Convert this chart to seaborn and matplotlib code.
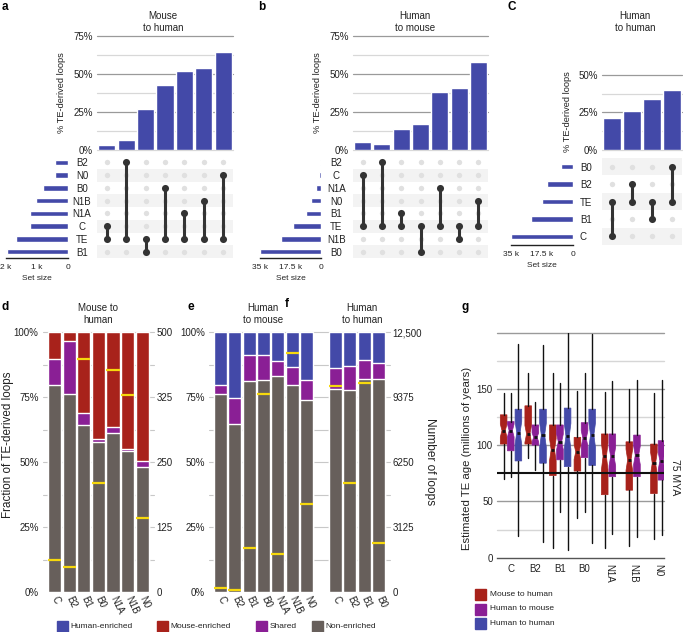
import numpy as np
import pandas as pd
import seaborn as sns
import matplotlib.pyplot as plt
from matplotlib.patches import Rectangle

sns.set_style("white")
plt.rcParams['font.family'] = ['Liberation Sans', 'DejaVu Sans']
plt.rcParams['font.size'] = 7
plt.rcParams['text.color'] = '#222222'
plt.rcParams['xtick.color'] = '#222222'
plt.rcParams['ytick.color'] = '#222222'

BLUE = '#4349a8'
RED = '#a8221b'
PURPLE = '#8a1f95'
GRAY = '#675f5b'
YELLOW = '#f6d80d'
DOT = '#333333'

# -------- data --------
# a: mouse to human
a_rows = ['B2', 'N0', 'B0', 'N1B', 'N1A', 'C', 'TE', 'B1']
a_size = [430, 430, 800, 1040, 1210, 1230, 1680, 1960]
a_sets = [('C', 'TE'), ('B2', 'TE'), ('TE', 'B1'), ('B0', 'TE'), ('N1A', 'TE'), ('N1B', 'TE'), ('N0', 'TE')]
a_pct = [3.3, 6.6, 26.8, 42.8, 52.0, 53.7, 64.3]

# b: human to mouse
b_rows = ['B2', 'C', 'N1A', 'N0', 'B1', 'TE', 'N1B', 'B0']
b_size = [600, 960, 2700, 5800, 8500, 15800, 22900, 35000]
b_sets = [('C', 'TE'), ('B2', 'TE'), ('B1', 'TE'), ('TE', 'B0'), ('N1A', 'TE'), ('TE', 'N1B'), ('N0', 'TE')]
b_pct = [5.0, 4.0, 13.8, 16.9, 38.4, 41.0, 58.0]

# c: human to human
c_rows = ['B0', 'B2', 'TE', 'B1', 'C']
c_size = [6900, 14900, 17300, 23600, 35000]
c_sets = [('TE', 'C'), ('B2', 'TE'), ('TE', 'B1'), ('B0', 'TE')]
c_pct = [21.5, 25.9, 33.8, 40.0]

# d/e/f: fraction of TE-derived loops (%)
d_cats = ['C', 'B2', 'B1', 'B0', 'N1A', 'N1B', 'N0']
d_nonenriched = [79.9, 76.4, 64.2, 57.8, 61.4, 54.2, 48.2]
d_shared = [10.0, 20.1, 4.9, 1.3, 2.2, 1.1, 2.2]
d_mouse = [10.1, 3.5, 30.9, 40.9, 36.4, 44.7, 49.6]
d_loops = [12.3, 9.7, 89.6, 42.2, 85.4, 75.8, 28.7]   # % of right axis

e_cats = ['C', 'B2', 'B1', 'B0', 'N1A', 'N1B', 'N0']
e_nonenriched = [76.4, 64.9, 81.2, 81.8, 83.1, 79.9, 73.8]
e_shared = [3.5, 10.0, 10.2, 9.6, 5.7, 6.8, 7.7]
e_human = [20.1, 25.1, 8.6, 8.6, 11.2, 13.3, 18.5]
e_loops = [1.8, 0.9, 16.9, 76.4, 14.6, 92.1, 33.9]

f_cats = ['C', 'B2', 'B1', 'B0']
f_nonenriched = [78.3, 77.7, 82.2, 81.9]
f_shared = [8.1, 9.2, 7.0, 6.3]
f_human = [13.6, 13.1, 10.8, 11.8]
f_loops = [79.2, 42.2, 80.5, 19.1]

# g: estimated TE age (min, q1, median, q3, max)
g_cats = ['C', 'B2', 'B1', 'B0', 'N1A', 'N1B', 'N0']
g_mouse_to_human = [(70, 101, 113, 127, 146), (89, 101, 110, 135, 164), (9, 73, 96, 118, 164),
                    (35, 77, 94, 107, 148), (9, 56, 90, 110, 147), (10, 60, 87, 103, 150),
                    (17, 57, 84, 101, 146)]
g_human_to_mouse = [(72, 95, 113, 121, 146), (78, 100, 107, 118, 138), (41, 87, 103, 118, 155),
                    (41, 89, 106, 120, 164), (21, 72, 90, 110, 157), (18, 72, 91, 109, 158),
                    (20, 69, 86, 104, 158)]
g_human_to_human = [(19, 86, 111, 132, 190), (14, 84, 109, 132, 189), (7, 81, 108, 133, 200),
                    (13, 82, 109, 132, 199)]

W, H = 683, 632
fig = plt.figure(figsize=(W / 100, H / 100), dpi=100)


def px(l, t, r, b):
    return [l / W, 1 - b / H, (r - l) / W, (b - t) / H]


def ftext(x, y, s, **kw):
    fig.text(x / W, 1 - y / H, s, **kw)


def clean(ax):
    for s in ax.spines.values():
        s.set_visible(False)
    ax.tick_params(length=0)


def upset(rows, size, sets, pct, bar_box, mat_box, size_box, ymax, size_max,
          size_ticks, size_labels, bar_h, label_pad, label_ha):
    n, m = len(rows), len(pct)
    ax = fig.add_axes(px(*bar_box))
    for v in np.arange(0, ymax + 1, 12.5):
        ax.axhline(v, color='#9a9a9a' if (v % 25 == 0 and v > 0) else '#d8d8d8',
                   lw=0.9, zorder=0, clip_on=False)
    sns.barplot(x=[str(i) for i in range(m)], y=pct, color=BLUE, saturation=1,
                width=0.88, errorbar=None, ax=ax, zorder=2)
    ax.set_xlim(-0.5, m - 0.5)
    ax.set_ylim(0, ymax)
    ax.set_xticks([])
    ax.set_xlabel('')
    ax.set_ylabel('')
    yt = np.arange(0, ymax + 1, 25)
    ax.set_yticks(yt)
    ax.set_yticklabels([f'{int(v)}%' for v in yt])
    clean(ax)
    ax.tick_params(axis='y', pad=3)

    axm = fig.add_axes(px(*mat_box))
    for i in range(n):
        if (n - 1 - i) % 2 == 0:
            axm.axhspan(i - 0.5, i + 0.5, color='#f3f3f3', lw=0, zorder=0)
    xx, yy = np.meshgrid(np.arange(m), np.arange(n))
    axm.scatter(xx.ravel(), yy.ravel(), s=15, color='#e0e0e0', lw=0, zorder=1)
    for j, (r1, r2) in enumerate(sets):
        ys = [rows.index(r1), rows.index(r2)]
        axm.plot([j, j], ys, color=DOT, lw=2.2, zorder=2)
        axm.scatter([j, j], ys, s=26, color=DOT, lw=0, zorder=3)
    axm.set_xlim(-0.5, m - 0.5)
    axm.set_ylim(n - 0.5, -0.5)
    axm.set_xticks([])
    axm.set_yticks(range(n))
    axm.set_yticklabels(rows)
    clean(axm)
    axm.tick_params(axis='y', pad=label_pad)
    for t in axm.get_yticklabels():
        t.set_ha(label_ha)

    axs = fig.add_axes(px(*size_box))
    sns.barplot(x=size, y=rows, order=rows, orient='h', color=BLUE, saturation=1,
                width=bar_h, errorbar=None, ax=axs)
    axs.set_xlim(size_max, 0)
    axs.set_ylim(n - 0.5, -0.5)
    axs.set_yticks([])
    axs.set_ylabel('')
    for s in ['top', 'right', 'left']:
        axs.spines[s].set_visible(False)
    axs.spines['bottom'].set_color('#222222')
    axs.spines['bottom'].set_linewidth(1)
    axs.set_xticks(size_ticks)
    axs.set_xticklabels(size_labels, fontsize=6)
    axs.tick_params(axis='x', length=3, width=0.8, pad=1.5)
    axs.set_xlabel('Set size', labelpad=3, fontsize=6)


upset(a_rows, a_size, a_sets, a_pct, (97, 36, 233, 150), (97, 156, 233, 258), (6, 156, 68, 258),
      75, 2000, [2000, 1000, 0], ['2 k', '1 k', '0'], 0.42, 10.8, 'center')
upset(b_rows, b_size, b_sets, b_pct, (353, 36, 488, 150), (353, 156, 488, 258), (260, 156, 321, 258),
      75, 35000, [35000, 17500, 0], ['35 k', '17.5 k', '0'], 0.42, 12, 'center')
upset(c_rows, c_size, c_sets, c_pct, (602, 75, 682, 150), (602, 158, 682, 245), (511, 158, 573, 245),
      50, 35000, [35000, 17500, 0], ['35 k', '17.5 k', '0'], 0.32, 16, 'left')

for x, y, s in [(163, 22, 'Mouse\nto human'), (415, 22, 'Human\nto mouse'), (635, 22, 'Human\nto human')]:
    ftext(x, y, s, ha='center', va='center', linespacing=1.15)
for x, y in [(62, 93), (317, 93), (567, 112)]:
    ftext(x, y, '% TE-derived loops', rotation=90, ha='center', va='center', fontsize=6.7)
for x, y, s in [(2, 7, 'a'), (258, 7, 'b'), (508, 7, 'C'), (2, 307, 'd'), (187, 307, 'e'),
                (285, 304, 'f'), (462, 307, 'g')]:
    ftext(x, y, s, fontsize=8.5, fontweight='bold', ha='left', va='center', color='black')


# -------- stacked bars --------
def stacked(ax, keys, order, gray, shared, enriched, top_color, loops):
    tops_shared = [g + s for g, s in zip(gray, shared)]
    tops_all = [g + s + e for g, s, e in zip(gray, shared, enriched)]
    for vals, col in [(tops_all, top_color), (tops_shared, PURPLE), (gray, GRAY)]:
        sns.barplot(x=keys, y=vals, order=order, color=col, saturation=1, width=0.9,
                    errorbar=None, ax=ax, zorder=2)
    for k, v in zip(keys, loops):
        i = order.index(k)
        ax.hlines(v, i - 0.45, i + 0.45, color=YELLOW, lw=1.6, zorder=5)


def frame(ax, right_labels, xlim):
    for v in np.arange(12.5, 100.1, 12.5):
        ax.axhline(v, color='#c8c8c8', lw=0.8, zorder=0.5, clip_on=False)
    ax.set_xlim(*xlim)
    ax.set_ylim(0, 100)
    ax.set_yticks([0, 25, 50, 75, 100])
    ax.set_yticklabels(['0%', '25%', '50%', '75%', '100%'])
    ax.set_xlabel('')
    ax.set_ylabel('')
    clean(ax)
    ax.tick_params(axis='y', pad=3)
    axr = ax.twinx()
    axr.set_ylim(0, 100)
    axr.set_yticks([0, 25, 50, 75, 100])
    axr.set_yticklabels(right_labels)
    clean(axr)
    axr.tick_params(axis='y', pad=2)


axd = fig.add_axes(px(42.8, 332.3, 154, 592.3))
d_keys = ['d' + c for c in d_cats]
stacked(axd, d_keys, d_keys, d_nonenriched, d_shared, d_mouse, RED, d_loops)
frame(axd, ['0', '125', '250', '325', '500'], (-0.8, 6.8))
axd.set_xticks(range(len(d_cats)))
axd.set_xticklabels(d_cats, rotation=-65, ha='left', va='center', rotation_mode='anchor')
axd.tick_params(axis='x', pad=3)

axe = fig.add_axes(px(209, 332.3, 390, 592.3))
e_keys = ['e' + c for c in e_cats]
f_keys = ['f' + c for c in f_cats]
ef_order = e_keys + ['gap'] + f_keys
stacked(axe, e_keys, ef_order, e_nonenriched, e_shared, e_human, BLUE, e_loops)
stacked(axe, f_keys, ef_order, f_nonenriched, f_shared, f_human, BLUE, f_loops)
frame(axe, ['0', '3125', '6250', '9375', '12,500'], (-0.8, 11.8))
axe.set_xticks([ef_order.index(k) for k in e_keys + f_keys])
axe.set_xticklabels(e_cats + f_cats, rotation=-65, ha='left', va='center', rotation_mode='anchor')
axe.tick_params(axis='x', pad=3)

ftext(98, 314, 'Mouse to\nhuman', ha='center', va='center', linespacing=1.15)
ftext(263, 314, 'Human\nto mouse', ha='center', va='center', linespacing=1.15)
ftext(362, 314, 'Human\nto human', ha='center', va='center', linespacing=1.15)
ftext(8, 445, 'Fraction of TE-derived loops', rotation=90, ha='center', va='center', fontsize=8.4)
ftext(430, 462, 'Number of loops', rotation=270, ha='center', va='center', fontsize=8.6)

for x, col, lab in [(57, BLUE, 'Human-enriched'), (157, RED, 'Mouse-enriched'),
                    (256, PURPLE, 'Shared'), (312, GRAY, 'Non-enriched')]:
    fig.patches.append(Rectangle((x / W, 1 - 631.5 / H), 10.5 / W, 10.5 / H,
                                 transform=fig.transFigure, color=col))
    ftext(x + 13.5, 626.5, lab, ha='left', va='center', fontsize=6)

# -------- g: box plots --------
axg = fig.add_axes(px(497, 332.7, 664, 557.7))
for v in range(25, 201, 25):
    if v == 75:
        continue
    axg.axhline(v, color='#9a9a9a' if v % 50 == 0 else '#d6d6d6', lw=1, zorder=0, clip_on=False)
axg.axhline(75, color='#111111', lw=1.5, zorder=4)


def stats(vals):
    lo, q1, med, q3, hi = vals
    nd = 0.22 * (q3 - q1)
    return dict(whislo=lo, q1=q1, med=med, q3=q3, whishi=hi, cilo=med - nd, cihi=med + nd, fliers=[])


series = [(g_mouse_to_human, RED, 0), (g_human_to_mouse, PURPLE, 1), (g_human_to_human, BLUE, 2)]
for vals, col, k in series:
    pos = []
    for i in range(len(vals)):
        three = i < len(g_human_to_human)
        pos.append(i + ((-0.29, 0.0, 0.31)[k] if three else (-0.18, 0.13)[k]))
    axg.bxp([stats(v) for v in vals], positions=pos, widths=0.27, patch_artist=True,
            shownotches=True, showcaps=False, showfliers=False, manage_ticks=False,
            boxprops=dict(facecolor=col, edgecolor=col, lw=0.5),
            whiskerprops=dict(color='#111111', lw=1),
            medianprops=dict(color='#111111', lw=2), zorder=3)

axg.set_xlim(-0.56, 6.23)
axg.set_ylim(0, 200)
axg.set_yticks([0, 50, 100, 150])
axg.set_xticks(range(len(g_cats)))
axg.set_xticklabels(g_cats)
for t in axg.get_xticklabels()[4:]:
    t.set_rotation(-90)
    t.set_va('top')
for s in ['top', 'right', 'left']:
    axg.spines[s].set_visible(False)
axg.spines['bottom'].set_color('#555555')
axg.spines['bottom'].set_linewidth(1)
axg.tick_params(axis='y', length=0, pad=3)
axg.tick_params(axis='x', length=2.5, width=1.5, color='#111111', pad=2)
ftext(467, 458, 'Estimated TE age (millions of years)', rotation=90, ha='center', va='center',
      fontsize=8.2)
ftext(675, 477, '75 MYA', rotation=270, ha='center', va='center', fontsize=7.5)

for y, col, lab in [(594.5, RED, 'Mouse to human'), (609, PURPLE, 'Human to mouse'),
                    (623.5, BLUE, 'Human to human')]:
    fig.patches.append(Rectangle((475 / W, 1 - (y + 5.5) / H), 11 / W, 11 / H,
                                 transform=fig.transFigure, color=col))
    ftext(490, y, lab, ha='left', va='center', fontsize=6)

fig.savefig('out.png', dpi=100)
